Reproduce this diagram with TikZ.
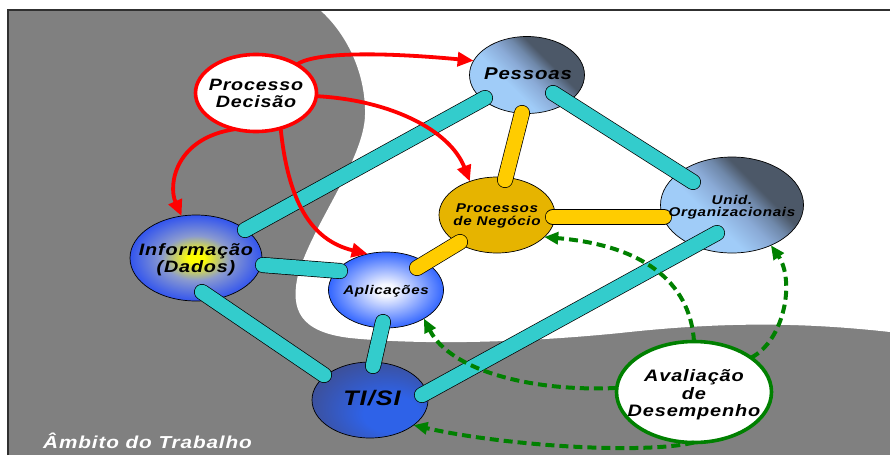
\documentclass[tikz,border=0pt]{standalone}
\usepackage{fontspec}
\setmainfont{Liberation Sans}
\newfontfamily\lbl{Liberation Sans}[FakeStretch=1.2, LetterSpace=5]
\usetikzlibrary{shapes.geometric,arrows.meta,calc}

\definecolor{bggray}{HTML}{808080}
\definecolor{framegray}{HTML}{303030}
\definecolor{barcyan}{HTML}{33CCCC}
\definecolor{baryellow}{HTML}{FFCC00}
\definecolor{decred}{HTML}{FF0000}
\definecolor{evalgreen}{HTML}{008000}
\definecolor{slatedark}{HTML}{4C5868}
\definecolor{slatemid}{HTML}{6F88AA}
\definecolor{slatesoft}{HTML}{8AAAD6}
\definecolor{skylight}{HTML}{A0CCF8}
\definecolor{goldedge}{HTML}{E6B400}
\definecolor{golddark}{HTML}{8C6C00}
\definecolor{tidark}{HTML}{3D4F96}
\definecolor{tibright}{HTML}{2E62E8}
\definecolor{infoyellow}{HTML}{FFFF00}
\definecolor{infomid}{HTML}{8A9AD0}
\definecolor{infoblue}{HTML}{3355EE}
\definecolor{aplwhite}{HTML}{F4F6FF}
\definecolor{aplblue}{HTML}{3366FF}

% sky blue below, slate above; turned so the slate sits at the upper right
\pgfdeclareverticalshading{slatelin}{100bp}{%
  color(0bp)=(skylight); color(40bp)=(skylight); color(50bp)=(slatesoft);
  color(57bp)=(slatemid); color(63bp)=(slatedark); color(100bp)=(slatedark)}
% bright at the lower right, dark towards the upper left
\pgfdeclareradialshading{tiglow}{\pgfpoint{12bp}{-12bp}}{%
  color(0bp)=(tibright); color(12bp)=(tibright);
  color(32bp)=(tidark); color(50bp)=(tidark)}
\pgfdeclareradialshading{infoglow}{\pgfpoint{0bp}{0bp}}{%
  color(0bp)=(infoyellow); color(3bp)=(infoyellow); color(13bp)=(infomid);
  color(25bp)=(infoblue); color(50bp)=(infoblue)}
\pgfdeclareradialshading{aplglow}{\pgfpoint{0bp}{0bp}}{%
  color(0bp)=(aplwhite); color(4bp)=(aplwhite);
  color(25bp)=(aplblue); color(50bp)=(aplblue)}

\begin{document}
\begin{tikzpicture}[x=1pt, y=-1pt,
  bubble/.style={ellipse, draw=black, line width=0.7pt, inner sep=0pt, outer sep=0pt},
  ring/.style={ellipse, line width=3.6pt, fill=white, inner sep=0pt, outer sep=0pt},
  cbar/.style={draw=barcyan, line width=14.6pt, line cap=round,
    preaction={draw=black, line width=16pt, line cap=round}},
  ybar/.style={draw=baryellow, line width=14.6pt, line cap=round,
    preaction={draw=black, line width=16pt, line cap=round}},
  decarrow/.style={draw=decred, line width=3.8pt, -{Triangle[length=16pt,width=14pt]}},
  evalarrow/.style={draw=evalgreen, line width=4pt, dash pattern=on 9pt off 5pt,
    -{Triangle[length=14pt,width=12pt]}},
  lab/.style n args={2}{inner sep=0pt, align=center,
    font=\lbl\bfseries\itshape\fontsize{#1}{#2}\selectfont}
]
\useasboundingbox (0,0) rectangle (890,455);

% working area: gray scope with a white open region
\fill[bggray] (8,10) rectangle (890,455);
\fill[white] (320,10) .. controls (348,35) and (366,75) .. (365,115)
  .. controls (364,160) and (312,225) .. (298,275)
  .. controls (290,310) and (300,332) .. (350,338)
  .. controls (420,345) and (520,343) .. (620,333)
  .. controls (720,322) and (800,322) .. (890,332) -- (890,10) -- cycle;
\draw[framegray, line width=2pt] (8,455) -- (8,10) -- (890,10);

% bubbles
\node[bubble, minimum width=115, minimum height=77, shading=slatelin, shading angle=-45]
  (pess) at (527,75) {};
\node[bubble, minimum width=143, minimum height=96, shading=slatelin, shading angle=-45]
  (unid) at (732,205) {};
\node[bubble, minimum width=116, minimum height=76,
  left color=goldedge, middle color=golddark, right color=goldedge]
  (proc) at (497,215) {};
\node[bubble, minimum width=115, minimum height=76, shading=aplglow]
  (apl) at (386,290) {};
\node[bubble, minimum width=132, minimum height=86, shading=infoglow]
  (info) at (196,258) {};
\node[bubble, minimum width=116, minimum height=76, shading=tiglow]
  (tisi) at (370,400) {};
\node[ring, draw=decred, minimum width=121, minimum height=77] (dec) at (256,93) {};
\node[ring, draw=evalgreen, minimum width=155, minimum height=101] (aval) at (694,392) {};

% bar ends inside the bubbles
\coordinate (c1a) at ($(info.center)+(49,-28)$);
\coordinate (c1b) at ($(pess.center)+(-42,23)$);
\coordinate (c2a) at ($(pess.center)+(26,18)$);
\coordinate (c2b) at ($(unid.center)+(-39,-23)$);
\coordinate (c3a) at ($(info.center)+(67,7)$);
\coordinate (c3b) at ($(apl.center)+(-46,-19)$);
\coordinate (c4a) at ($(info.center)+(6,34)$);
\coordinate (c4b) at ($(tisi.center)+(-46,-25)$);
\coordinate (c5a) at ($(apl.center)+(-3,32)$);
\coordinate (c5b) at ($(tisi.center)+(3,-34)$);
\coordinate (c6a) at ($(tisi.center)+(52,-5)$);
\coordinate (c6b) at ($(unid.center)+(-15,28)$);
\coordinate (y1a) at ($(pess.center)+(-5,38)$);
\coordinate (y1b) at ($(proc.center)+(8,-35)$);
\coordinate (y2a) at ($(proc.center)+(56,2)$);
\coordinate (y2b) at ($(unid.center)+(-68,12)$);
\coordinate (y3a) at ($(proc.center)+(-37,27)$);
\coordinate (y3b) at ($(apl.center)+(31,-22)$);

% links between the bubbles
\draw[cbar] (c1a) -- (c1b);
\draw[cbar] (c2a) -- (c2b);
\draw[cbar] (c3a) -- (c3b);
\draw[cbar] (c4a) -- (c4b);
\draw[cbar] (c5a) -- (c5b);
\draw[cbar] (c6a) -- (c6b);
\draw[ybar] (y1a) -- (y1b);
\draw[ybar] (y2a) -- (y2b);
\draw[ybar] (y3a) -- (y3b);

% decision arrows
\draw[decarrow] (dec.35) .. controls (315,52) and (380,52) .. (pess.165);
\draw[decarrow] (dec.-3) .. controls (390,100) and (450,130) .. (proc.129);
\draw[decarrow] (dec.240) .. controls (175,138) and (168,185) .. (info.109);
\draw[decarrow] (dec.-55) .. controls (288,200) and (310,240) .. (apl.117);

% performance feedback arrows
\draw[evalarrow] (aval.90) .. controls (690,280) and (640,245) .. (proc.-25);
\draw[evalarrow] (aval.31) .. controls (785,340) and (795,280) .. (unid.-46);
\draw[evalarrow] (aval.177) .. controls (530,392) and (450,370) .. (apl.-37);
\draw[evalarrow] (aval.270) .. controls (640,455) and (500,445) .. (tisi.-30);

% labels
\node[lab={16.4}{17}] (decl) at (256,93) {Processo\\Decisão};
\node[lab={17}{19}] (pessl) at (528,74) {Pessoas};
\node[lab={12.7}{12.5}] (unidl) at (732,207) {Unid.\\Organizacionais};
\node[lab={12.7}{13}] (procl) at (497,216) {Processos\\de Negócio};
\node[lab={16.5}{17}] (infol) at (196,260) {Informação\\(Dados)};
\node[lab={12.6}{14}] (apll) at (386,291) {Aplicações};
\node[lab={21}{24}] (tisil) at (372,398) {TI/SI};
\node[lab={16.6}{17.5}] (avall) at (694,395) {Avaliação\\de\\Desempenho};
\node[lab={17.3}{19}, text=white, anchor=base west] (scope) at (43,448) {Âmbito do Trabalho};
\end{tikzpicture}
\end{document}
